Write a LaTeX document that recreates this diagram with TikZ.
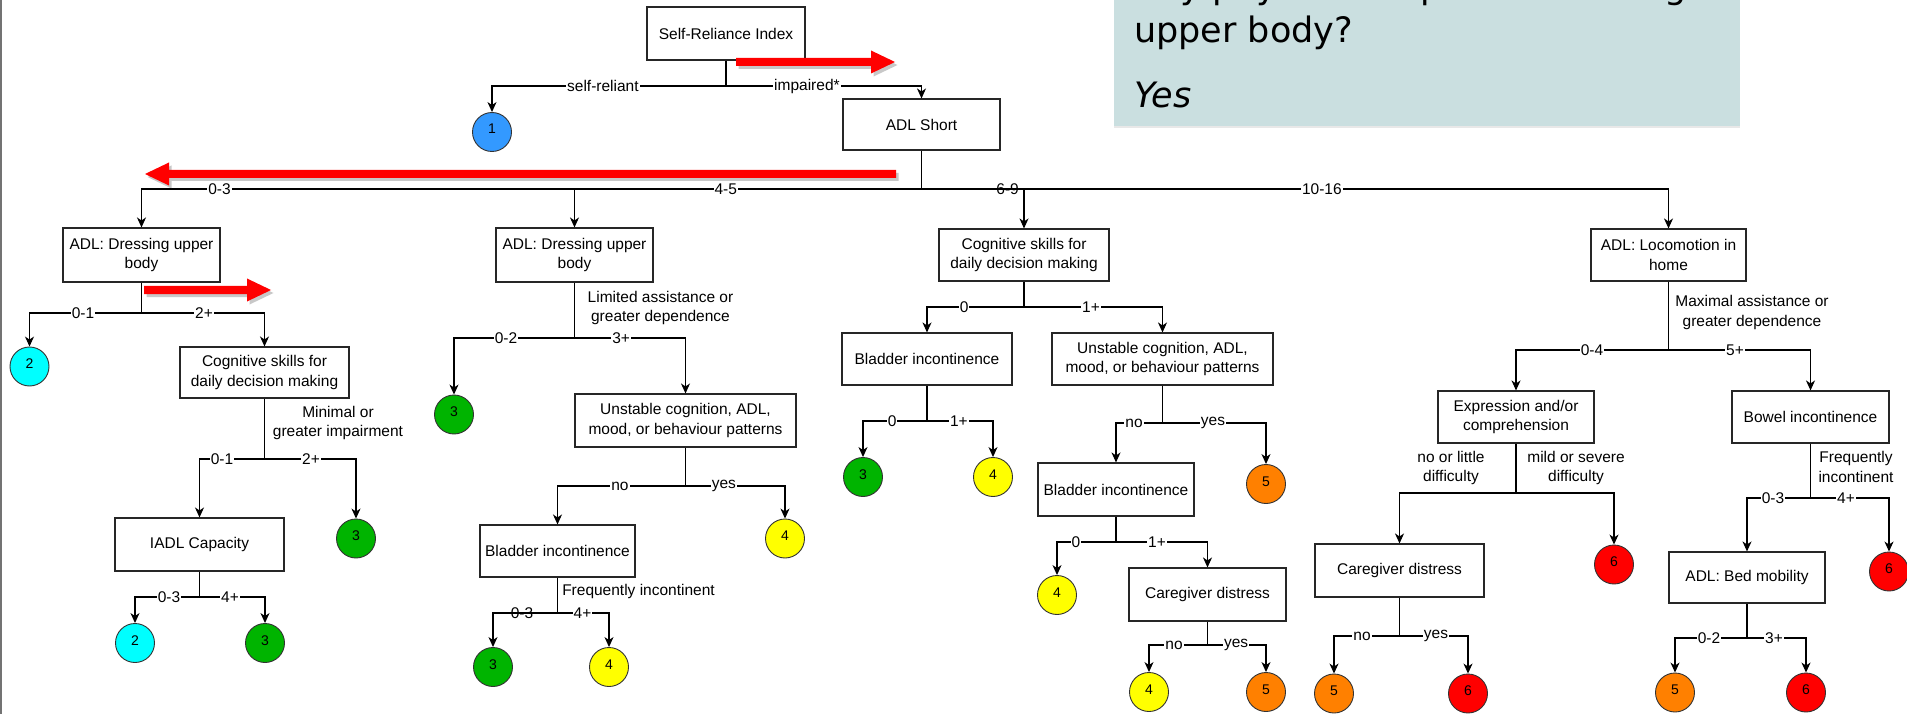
\documentclass[tikz,border=0pt]{standalone}
\usepackage{fontspec}
\setmainfont{Liberation Sans}
\newfontfamily\slidefont{DejaVu Sans}
\usetikzlibrary{arrows.meta,shadows}

\definecolor{lvone}{HTML}{3399FF}
\definecolor{lvtwo}{HTML}{00FFFF}
\definecolor{lvthree}{HTML}{00B400}
\definecolor{lvfour}{HTML}{FFFF00}
\definecolor{lvfive}{HTML}{FF8000}
\definecolor{lvsix}{HTML}{FF0000}
\definecolor{notebg}{HTML}{CADFE0}

% thick red pointer: tail x, tip x, y, direction (1 = right, -1 = left)
\newcommand{\hintarrow}[4]{%
  \fill[red, drop shadow={shadow xshift=2.5pt, shadow yshift=-3pt, opacity=0.3, fill=black!70}]
    (#1,{#3-4}) -- ({#2-#4*24},{#3-4}) -- ({#2-#4*24},{#3-11.5}) -- (#2,#3)
    -- ({#2-#4*24},{#3+11.5}) -- ({#2-#4*24},{#3+4}) -- (#1,{#3+4}) -- cycle;}

\begin{document}
\begin{tikzpicture}[x=1pt,y=-1pt,
  box/.style={draw=black!85, line width=1.1pt, fill=white, align=center, inner sep=0pt,
    font=\fontsize{15.5}{19.5}\selectfont},
  leaf/.style={circle, draw=black!80, line width=0.9pt, minimum size=39pt, inner sep=0pt,
    text height=10pt, text depth=6pt, font=\fontsize{14}{14}\selectfont},
  conn/.style={line width=1.1pt, -{Stealth[length=10pt,width=9pt,inset=3pt]}},
  stem/.style={line width=1.1pt},
  lbl/.style={fill=white, inner sep=1pt, font=\fontsize{15.5}{19.5}\selectfont},
  lblplain/.style={inner sep=1pt, font=\fontsize{15.5}{19.5}\selectfont},
  side/.style={align=center, inner sep=0pt, font=\fontsize{15.5}{19.5}\selectfont},
  slide/.style={anchor=base west, inner sep=0pt, font=\slidefont\fontsize{35}{42}\selectfont},
]
\useasboundingbox (0,0) rectangle (1907,714);
\clip (0,0) rectangle (1907,714);
\fill[white] (0,0) rectangle (1907,714);
\draw[black!55, line width=1.5pt] (1,0) -- (1,714);

% question panel
\fill[notebg, drop shadow={shadow xshift=0pt, shadow yshift=-2pt, opacity=0.18}] (1114,-10) rectangle (1740,126);
\node[slide] (q1) at (1134,-1.5) {Any physical help with dressing};
\node[slide] (q2) at (1134,43) {upper body?};
\node[slide, font=\slidefont\itshape\fontsize{35}{42}\selectfont] (ans) at (1134,108) {Yes};

% root
\node[box, minimum width=158pt, minimum height=53pt] (sri) at (726,33.5) {Self-Reliance Index};
\node[leaf, fill=lvone] (r1) at (492,132) {1};
\node[box, minimum width=157pt, minimum height=51pt] (adl) at (921.5,124.5) {ADL Short};
\coordinate (bsri) at (726,86);
\draw[stem] (sri.south) -- (bsri);
\draw[conn] (bsri) -| node[lbl,pos=.263]{self-reliant} (r1.north);
\draw[conn] (bsri) -| node[lbl,pos=.207]{impaired*} (adl.north);

% ADL Short split
\node[box, minimum width=157pt, minimum height=54pt] (a1) at (141.5,255) {ADL: Dressing upper\\body};
\node[box, minimum width=157pt, minimum height=54pt] (b1) at (574.5,255) {ADL: Dressing upper\\body};
\node[box, minimum width=170pt, minimum height=52pt] (c1) at (1024,255) {Cognitive skills for\\daily decision making};
\node[box, minimum width=155pt, minimum height=52pt] (d1) at (1668.5,255) {ADL: Locomotion in\\home};
\coordinate (badl) at (921.5,189);
\draw[stem] (adl.south) -- (badl);
\draw[conn] (badl) -| node[lbl,pos=.45]{0-3} (a1.north);
\draw[conn] (badl) -| node[lbl,pos=.282]{4-5} (b1.north);
\draw[conn] (badl) -| node[lbl,pos=.42]{6-9} (c1.north);
\draw[conn] (badl) -| node[lbl,pos=.268]{10-16} (d1.north);

% 0-3 branch
\node[leaf, fill=lvtwo] (a1l) at (29.5,366.5) {2};
\node[box, minimum width=169pt, minimum height=51pt] (a2) at (264.5,372.5) {Cognitive skills for\\daily decision making};
\coordinate (ba1) at (141.5,313);
\draw[stem] (a1.south) -- (ba1);
\draw[conn] (ba1) -| node[lbl,pos=.261]{0-1} (a1l.north);
\draw[conn] (ba1) -| node[lbl,pos=.254]{2+} (a2.north);

\node[side] (a2note) at (338,423) {Minimal or\\greater impairment};
\node[box, minimum width=169pt, minimum height=53pt] (a3) at (199.5,544.5) {IADL Capacity};
\node[leaf, fill=lvthree] (a2r) at (356,538.5) {3};
\coordinate (ba2) at (264.5,459);
\draw[stem] (a2.south) -- (ba2);
\draw[conn] (ba2) -| node[lbl,pos=.327]{0-1} (a3.north);
\draw[conn] (ba2) -| node[lbl,pos=.254]{2+} (a2r.north);

\node[leaf, fill=lvtwo] (a3l) at (135,643) {2};
\node[leaf, fill=lvthree] (a3r) at (265,643) {3};
\coordinate (ba3) at (199.5,597);
\draw[stem] (a3.south) -- (ba3);
\draw[conn] (ba3) -| node[lbl,pos=.236]{0-3} (a3l.north);
\draw[conn] (ba3) -| node[lbl,pos=.233]{4+} (a3r.north);

% 4-5 branch
\node[side] (b1note) at (660.5,308) {Limited assistance or\\greater dependence};
\node[leaf, fill=lvthree] (b1l) at (454,414.5) {3};
\node[box, minimum width=221pt, minimum height=53pt] (b2) at (685.5,420.5) {Unstable cognition, ADL,\\mood, or behaviour patterns};
\coordinate (bb1) at (574.5,338);
\draw[stem] (b1.south) -- (bb1);
\draw[conn] (bb1) -| node[lbl,pos=.284]{0-2} (b1l.north);
\draw[conn] (bb1) -| node[lbl,pos=.21]{3+} (b2.north);

\node[box, minimum width=155pt, minimum height=52pt] (b3) at (557.5,551) {Bladder incontinence};
\node[leaf, fill=lvfour] (b2r) at (785,538.5) {4};
\coordinate (bb2) at (685.5,486);
\draw[stem] (b2.south) -- (bb2);
\draw[conn] (bb2) -| node[lbl,pos=.256]{no} (b3.north);
\draw[conn] (bb2) -| node[lbl,pos=.193]{yes} (b2r.north);

\node[side] (b3note) at (638.5,591) {Frequently incontinent};
\node[leaf, fill=lvthree] (b3l) at (493,667) {3};
\node[leaf, fill=lvfour] (b3r) at (609,667) {4};
\coordinate (bb3) at (557.5,613);
\draw[stem] (b3.south) -- (bb3);
\draw[conn] (bb3) -| node[lblplain,pos=.275]{0-3} (b3l.north);
\draw[conn] (bb3) -| node[lbl,pos=.243]{4+} (b3r.north);

% 6-9 branch
\node[box, minimum width=170pt, minimum height=52pt] (c2) at (927,359) {Bladder incontinence};
\node[box, minimum width=221pt, minimum height=52pt] (c3) at (1162.5,359) {Unstable cognition, ADL,\\mood, or behaviour patterns};
\coordinate (bc1) at (1024,307);
\draw[stem] (c1.south) -- (bc1);
\draw[conn] (bc1) -| node[lbl,pos=.309]{0} (c2.north);
\draw[conn] (bc1) -| node[lbl,pos=.242]{1+} (c3.north);

\node[leaf, fill=lvthree] (c2l) at (863,477) {3};
\node[leaf, fill=lvfour] (c2r) at (993,477) {4};
\coordinate (bc2) at (927,421);
\draw[stem] (c2.south) -- (bc2);
\draw[conn] (bc2) -| node[lbl,pos=.273]{0} (c2l.north);
\draw[conn] (bc2) -| node[lbl,pos=.242]{1+} (c2r.north);

\node[box, minimum width=156pt, minimum height=53pt] (c4) at (1116,489.5) {Bladder incontinence};
\node[leaf, fill=lvfive] (c3r) at (1266,484) {5};
\coordinate (bc3) at (1162.5,423);
\draw[stem] (c3.south) -- (bc3);
\draw[conn] (bc3) -| node[lbl,pos=.306]{no} (c4.north);
\draw[conn] (bc3) -| node[lbl,pos=.244]{yes} (c3r.north);

\node[leaf, fill=lvfour] (c4l) at (1057,595) {4};
\node[box, minimum width=157pt, minimum height=53pt] (c5) at (1207.5,594.5) {Caregiver distress};
\coordinate (bc4) at (1116,542);
\draw[stem] (c4.south) -- (bc4);
\draw[conn] (bc4) -| node[lbl,pos=.339]{0} (c4l.north);
\draw[conn] (bc4) -| node[lbl,pos=.224]{1+} (c5.north);

\node[leaf, fill=lvfour] (c5l) at (1149,692) {4};
\node[leaf, fill=lvfive] (c5r) at (1266,692) {5};
\coordinate (bc5) at (1207.5,645);
\draw[stem] (c5.south) -- (bc5);
\draw[conn] (bc5) -| node[lbl,pos=.286]{no} (c5l.north);
\draw[conn] (bc5) -| node[lbl,pos=.244]{yes} (c5r.north);

% 10-16 branch
\node[side] (d1note) at (1752,312.5) {Maximal assistance or\\greater dependence};
\node[box, minimum width=156pt, minimum height=52pt] (d2) at (1516,417) {Expression and/or\\comprehension};
\node[box, minimum width=157pt, minimum height=52pt] (d3) at (1810.5,417) {Bowel incontinence};
\coordinate (bd1) at (1668.5,350);
\draw[stem] (d1.south) -- (bd1);
\draw[conn] (bd1) -| node[lbl,pos=.251]{0-4} (d2.north);
\draw[conn] (bd1) -| node[lbl,pos=.234]{5+} (d3.north);

\node[side] (d2notel) at (1451,468) {no or little\\difficulty};
\node[side] (d2noter) at (1576,468) {mild or severe\\difficulty};
\node[box, minimum width=169pt, minimum height=53pt] (d4) at (1399.5,570.5) {Caregiver distress};
\node[leaf, fill=lvsix] (d2r) at (1614,564.5) {6};
\coordinate (bd2) at (1516,493);
\draw[stem] (d2.south) -- (bd2);
\draw[conn] (bd2) -| (d4.north);
\draw[conn] (bd2) -| (d2r.north);

\node[leaf, fill=lvfive] (d4l) at (1334,693.5) {5};
\node[leaf, fill=lvsix] (d4r) at (1468,693.5) {6};
\coordinate (bd4) at (1399.5,636);
\draw[stem] (d4.south) -- (bd4);
\draw[conn] (bd4) -| node[lbl,pos=.286]{no} (d4l.north);
\draw[conn] (bd4) -| node[lbl,pos=.266]{yes} (d4r.north);

\node[side] (d3note) at (1856,467) {Frequently\\incontinent};
\node[box, minimum width=156pt, minimum height=51pt] (d5) at (1747,577.5) {ADL: Bed mobility};
\node[leaf, fill=lvsix] (d3r) at (1889,571.5) {6};
\coordinate (bd3) at (1810.5,498);
\draw[stem] (d3.south) -- (bd3);
\draw[conn] (bd3) -| node[lbl,pos=.295]{0-3} (d5.north);
\draw[conn] (bd3) -| node[lbl,pos=.226]{4+} (d3r.north);

\node[leaf, fill=lvfive] (d5l) at (1675,692.5) {5};
\node[leaf, fill=lvsix] (d5r) at (1806,692.5) {6};
\coordinate (bd5) at (1747,638);
\draw[stem] (d5.south) -- (bd5);
\draw[conn] (bd5) -| node[lbl,pos=.264]{0-2} (d5l.north);
\draw[conn] (bd5) -| node[lbl,pos=.229]{3+} (d5r.north);

% red pointers
\hintarrow{736}{895}{62}{1}
\hintarrow{896}{145}{174}{-1}
\hintarrow{144}{271}{290}{1}
\end{tikzpicture}
\end{document}
